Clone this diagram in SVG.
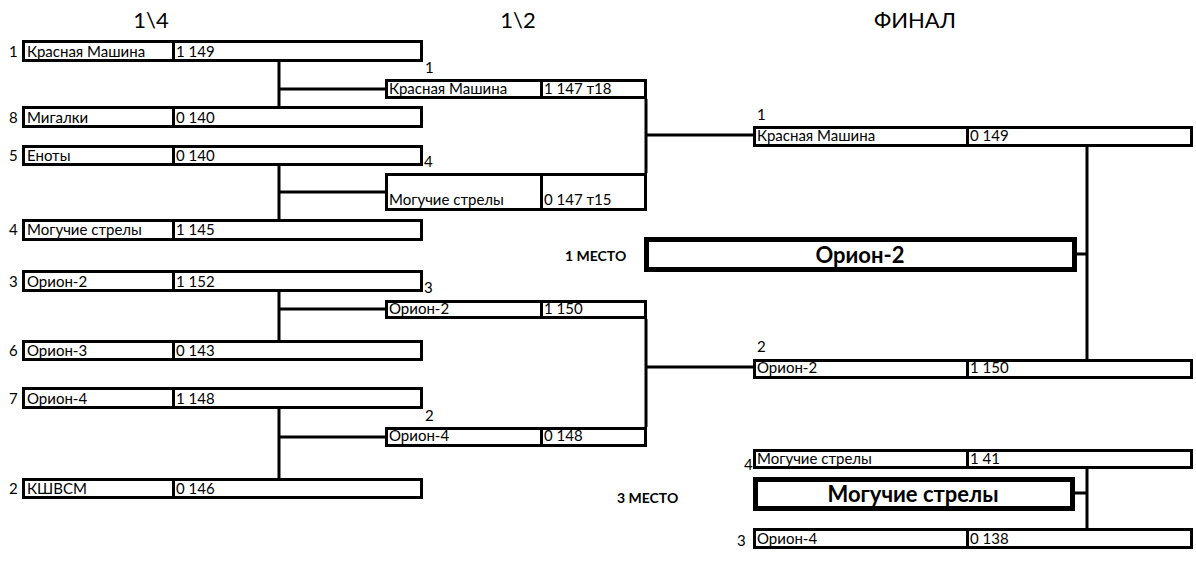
<svg xmlns="http://www.w3.org/2000/svg" width="1196" height="561" viewBox="0 0 1196 561">
<style>
.b{fill:#fff;stroke:#000;stroke-width:3}
.bb{fill:#fff;stroke:#000;stroke-width:5}
.d{stroke:#000;stroke-width:3}
.c{fill:none;stroke:#000;stroke-width:3}
text{font-family:Lato,"Liberation Sans",sans-serif;fill:#000}
.t{font-size:15px}
.h{font-size:22px}
.m{font-size:14px;font-weight:bold}
.w{font-size:22px;font-weight:bold;text-anchor:middle}
</style>
<rect width="1196" height="561" fill="#fff"/>
<g id="titles">
<text class="h" x="151" y="28" text-anchor="middle">1\4</text>
<text class="h" x="518" y="28" text-anchor="middle">1\2</text>
<text class="h" x="915" y="28" text-anchor="middle">ФИНАЛ</text>
</g>
<g id="connectors">
<path class="c" d="M279 62V106M279 89H386"/>
<path class="c" d="M279 166V219M279 192H386"/>
<path class="c" d="M279 292V340M279 309H386"/>
<path class="c" d="M279 409V478M279 437H386"/>
<path class="c" d="M646 99V173M646 135H754"/>
<path class="c" d="M646 319V427M646 367H754"/>
<path class="c" d="M1087 147V359M1075 254H1087"/>
<path class="c" d="M1087 469V528M1073 493H1087"/>
</g>
<g id="qf1"><text class="t" x="9" y="57">1</text><rect class="b" x="23.5" y="41.5" width="398" height="19"/><line class="d" x1="173.5" y1="41.5" x2="173.5" y2="60.5"/><text class="t" x="27" y="57">Красная Машина</text><text class="t" x="176" y="57">1 149</text></g>
<g id="qf8"><text class="t" x="9" y="123">8</text><rect class="b" x="23.5" y="107.5" width="398" height="19"/><line class="d" x1="173.5" y1="107.5" x2="173.5" y2="126.5"/><text class="t" x="27" y="123">Мигалки</text><text class="t" x="176" y="123">0 140</text></g>
<g id="qf5"><text class="t" x="9" y="161">5</text><rect class="b" x="23.5" y="146.5" width="398" height="18"/><line class="d" x1="173.5" y1="146.5" x2="173.5" y2="164.5"/><text class="t" x="27" y="161">Еноты</text><text class="t" x="176" y="161">0 140</text></g>
<g id="qf4"><text class="t" x="9" y="235">4</text><rect class="b" x="23.5" y="220.5" width="398" height="19"/><line class="d" x1="173.5" y1="220.5" x2="173.5" y2="239.5"/><text class="t" x="27" y="235">Могучие стрелы</text><text class="t" x="176" y="235">1 145</text></g>
<g id="qf3"><text class="t" x="9" y="287">3</text><rect class="b" x="23.5" y="271.5" width="398" height="19"/><line class="d" x1="173.5" y1="271.5" x2="173.5" y2="290.5"/><text class="t" x="27" y="287">Орион-2</text><text class="t" x="176" y="287">1 152</text></g>
<g id="qf6"><text class="t" x="9" y="356">6</text><rect class="b" x="23.5" y="341.5" width="398" height="18"/><line class="d" x1="173.5" y1="341.5" x2="173.5" y2="359.5"/><text class="t" x="27" y="356">Орион-3</text><text class="t" x="176" y="356">0 143</text></g>
<g id="qf7"><text class="t" x="9" y="404">7</text><rect class="b" x="23.5" y="388.5" width="398" height="19"/><line class="d" x1="173.5" y1="388.5" x2="173.5" y2="407.5"/><text class="t" x="27" y="404">Орион-4</text><text class="t" x="176" y="404">1 148</text></g>
<g id="qf2"><text class="t" x="9" y="494">2</text><rect class="b" x="23.5" y="479.5" width="398" height="18"/><line class="d" x1="173.5" y1="479.5" x2="173.5" y2="497.5"/><text class="t" x="27" y="494">КШВСМ</text><text class="t" x="176" y="494">0 146</text></g>
<g id="sf1"><text class="t" x="425" y="73">1</text><rect class="b" x="386.5" y="80.5" width="259" height="17"/><line class="d" x1="541.5" y1="80.5" x2="541.5" y2="97.5"/><text class="t" x="389" y="94">Красная Машина</text><text class="t" x="544" y="94">1 147 т18</text></g>
<g id="sf2"><text class="t" x="424" y="167">4</text><rect class="b" x="386.5" y="174.5" width="259" height="35"/><line class="d" x1="541.5" y1="174.5" x2="541.5" y2="209.5"/><text class="t" x="389" y="205">Могучие стрелы</text><text class="t" x="544" y="205">0 147 т15</text></g>
<g id="sf3"><text class="t" x="424" y="293">3</text><rect class="b" x="386.5" y="301.5" width="259" height="16"/><line class="d" x1="541.5" y1="301.5" x2="541.5" y2="317.5"/><text class="t" x="389" y="314">Орион-2</text><text class="t" x="544" y="314">1 150</text></g>
<g id="sf4"><text class="t" x="425" y="421">2</text><rect class="b" x="386.5" y="428.5" width="259" height="17"/><line class="d" x1="541.5" y1="428.5" x2="541.5" y2="445.5"/><text class="t" x="389" y="441">Орион-4</text><text class="t" x="544" y="441">0 148</text></g>
<g id="f1"><text class="t" x="757" y="120">1</text><rect class="b" x="754.5" y="127.5" width="437" height="18"/><line class="d" x1="967.5" y1="127.5" x2="967.5" y2="145.5"/><text class="t" x="757" y="141">Красная Машина</text><text class="t" x="970" y="141">0 149</text></g>
<g id="f2"><text class="t" x="757" y="352">2</text><rect class="b" x="754.5" y="360.5" width="437" height="17"/><line class="d" x1="967.5" y1="360.5" x2="967.5" y2="377.5"/><text class="t" x="757" y="373">Орион-2</text><text class="t" x="970" y="373">1 150</text></g>
<g id="first"><text class="m" x="565" y="261">1 МЕСТО</text><rect class="bb" x="646.5" y="239.5" width="428" height="30"/><text class="w" x="860" y="263">Орион-2</text></g>
<g id="t1"><text class="t" x="744" y="470">4</text><rect class="b" x="754.5" y="450.5" width="437" height="17"/><line class="d" x1="967.5" y1="450.5" x2="967.5" y2="467.5"/><text class="t" x="757" y="464">Могучие стрелы</text><text class="t" x="970" y="464">1 41</text></g>
<g id="third"><text class="m" x="617" y="503">3 МЕСТО</text><rect class="bb" x="755.5" y="479.5" width="317" height="29"/><text class="w" x="913" y="502">Могучие стрелы</text></g>
<g id="t2"><text class="t" x="737" y="546">3</text><rect class="b" x="754.5" y="529.5" width="437" height="18"/><line class="d" x1="967.5" y1="529.5" x2="967.5" y2="547.5"/><text class="t" x="757" y="544">Орион-4</text><text class="t" x="970" y="544">0 138</text></g>
</svg>
